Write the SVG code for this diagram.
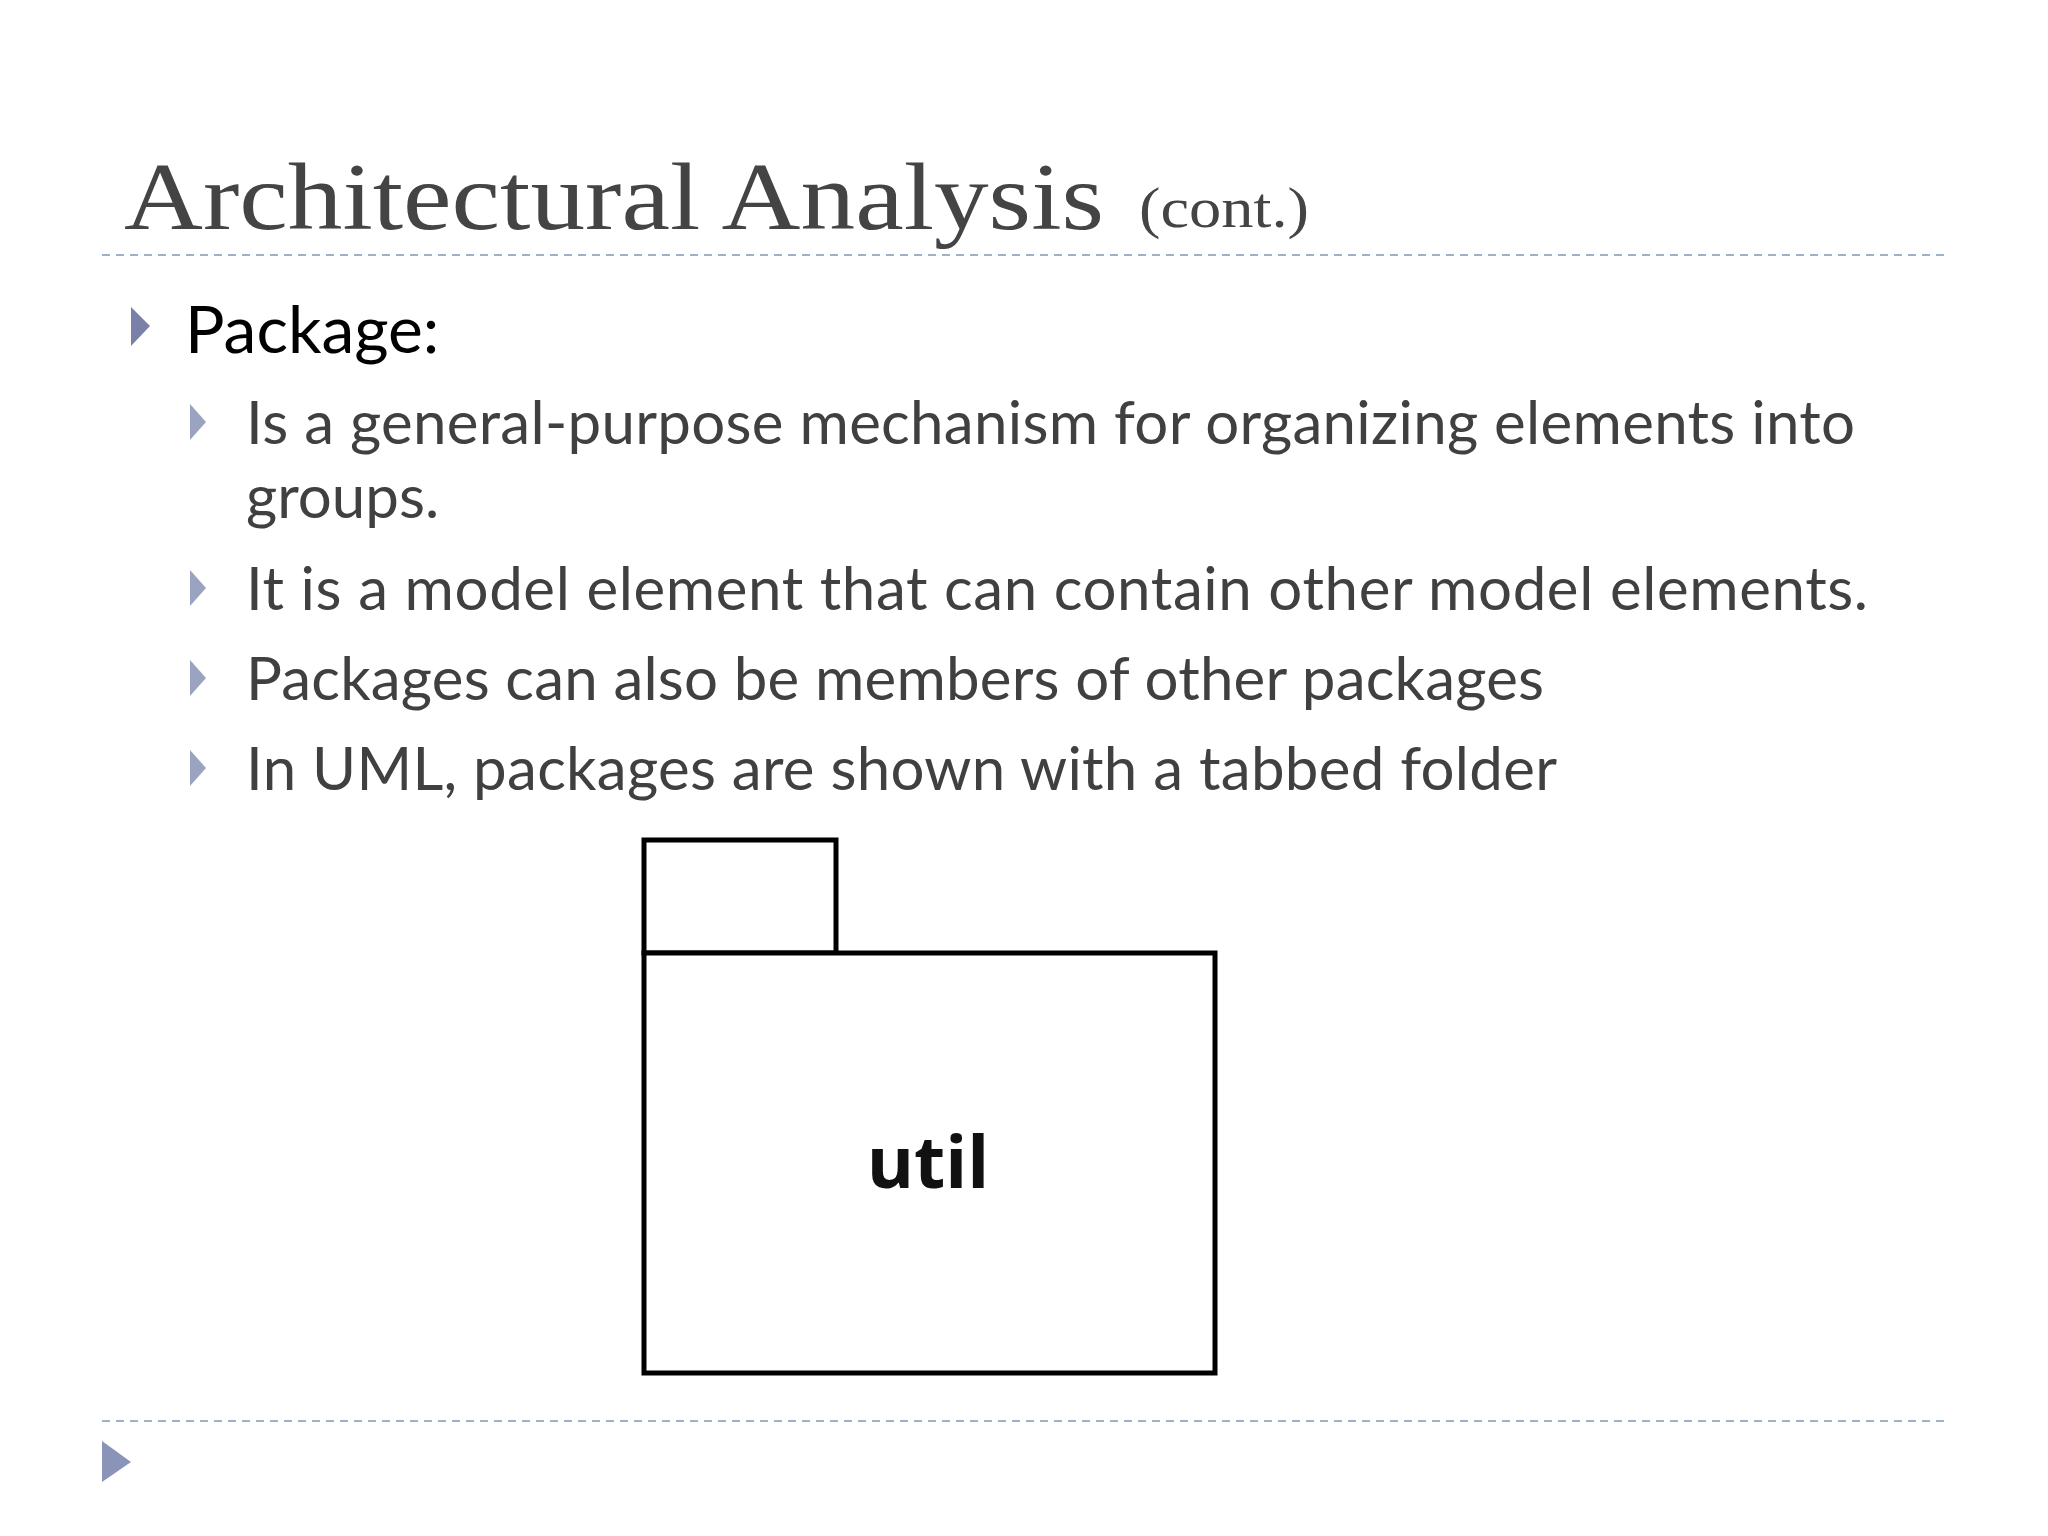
<svg xmlns="http://www.w3.org/2000/svg" width="2048" height="1536" viewBox="0 0 2048 1536">
<style>
.dash{stroke:#9fb0c8;stroke-width:2;stroke-dasharray:8,6;fill:none}
.sub{font-family:Lato,"Open Sans",sans-serif;font-size:60px;fill:#404040}
.tri{fill:#9aa3c0}
.pkg{fill:#fff;stroke:#000;stroke-width:5}
</style>
<rect width="2048" height="1536" fill="#fff"/>
<g id="title">
<text x="124" y="229" font-family="Liberation Serif,serif" font-size="96" fill="#444" textLength="980" lengthAdjust="spacingAndGlyphs">Architectural Analysis</text>
<text x="1139" y="227" font-family="Liberation Serif,serif" font-size="56" fill="#444" textLength="170" lengthAdjust="spacingAndGlyphs">(cont.)</text>
</g>
<line class="dash" x1="102" y1="255" x2="1946" y2="255"/>
<line class="dash" x1="102" y1="1421" x2="1946" y2="1421"/>
<g id="bullets">
<polygon points="131,307 150,326 131,346" fill="#7a80a8"/>
<text x="185" y="353" font-family="Lato,'Open Sans',sans-serif" font-size="66" fill="#000">Package:</text>
<polygon class="tri" points="190,404 206,422 190,440"/>
<text class="sub" x="246" y="444" textLength="1609" lengthAdjust="spacing">Is a general-purpose mechanism for organizing elements into</text>
<text class="sub" x="246" y="518">groups.</text>
<polygon class="tri" points="190,570 206,588 190,606"/>
<text class="sub" x="246" y="610" textLength="1622" lengthAdjust="spacing">It is a model element that can contain other model elements.</text>
<polygon class="tri" points="190,660 206,678 190,696"/>
<text class="sub" x="246" y="700" textLength="1298" lengthAdjust="spacing">Packages can also be members of other packages</text>
<polygon class="tri" points="190,750 206,768 190,786"/>
<text class="sub" x="246" y="790" textLength="1311" lengthAdjust="spacing">In UML, packages are shown with a tabbed folder</text>
</g>
<g id="package-util">
<rect class="pkg" x="644" y="840" width="192" height="113"/>
<rect class="pkg" x="644" y="953" width="571" height="420"/>
<text x="928" y="1188" text-anchor="middle" font-family="'Open Sans',sans-serif" font-weight="bold" font-size="72" fill="#111">util</text>
</g>
<polygon points="102,1441 131,1462 102,1482" fill="#8a93b8"/>
</svg>
